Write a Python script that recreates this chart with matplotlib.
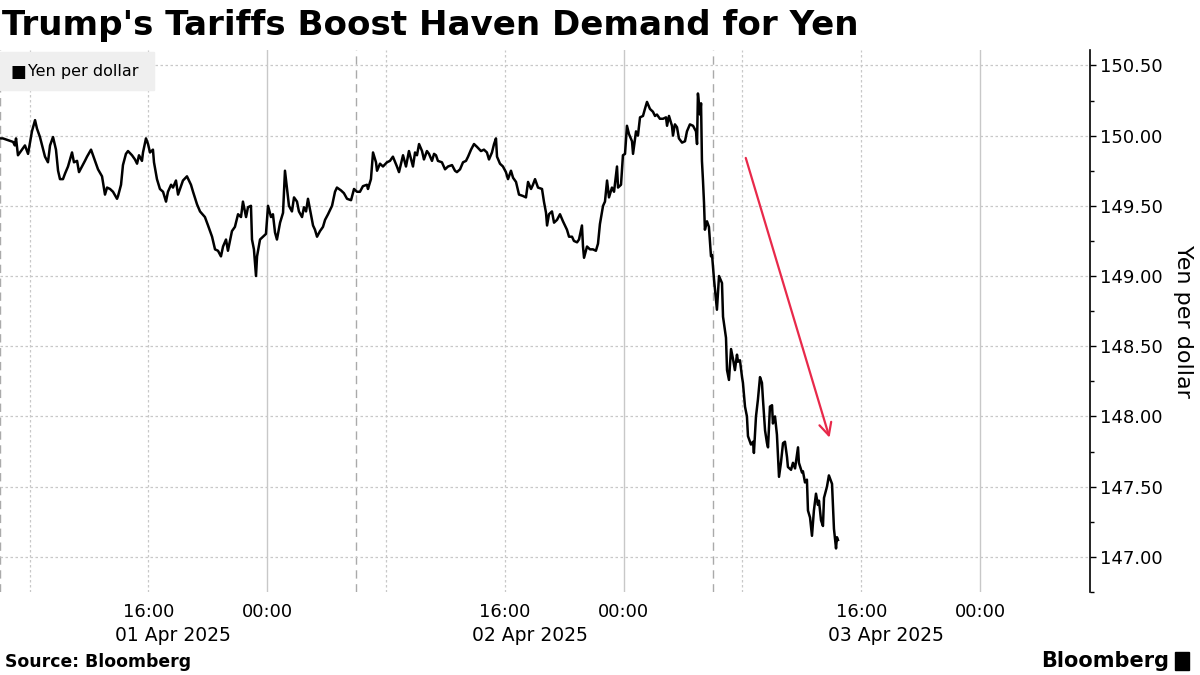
import numpy as np
import pandas as pd
import matplotlib
matplotlib.use("Agg")
import matplotlib.pyplot as plt
import matplotlib.dates as mdates
import matplotlib.transforms as mtransforms
from matplotlib.ticker import MultipleLocator, FuncFormatter

# hours after 2025-04-01 06:00 and USDJPY level
hours = [
    0.00, 0.20, 0.88, 1.00, 1.08, 1.21, 1.48, 1.68, 1.89, 2.15, 2.36, 2.49, 2.69,
    3.03, 3.23, 3.37, 3.57, 3.77, 3.91, 4.04, 4.24, 4.38, 4.58, 4.85, 4.98, 5.19,
    5.32, 5.52, 5.72, 5.86, 6.13, 6.40, 6.60, 6.87, 7.07, 7.21, 7.41, 7.61, 7.88,
    7.95, 8.15, 8.28, 8.48, 8.62, 8.89, 9.09, 9.23, 9.36, 9.56, 9.63, 9.83, 9.97,
    10.10, 10.30, 10.37, 10.57, 10.77, 10.98, 11.18, 11.31, 11.52, 11.65, 11.85,
    11.99, 12.19, 12.32, 12.59, 12.86, 13.00, 13.27, 13.47, 13.80, 14.01, 14.28,
    14.48, 14.68, 14.88, 15.02, 15.22, 15.35, 15.62, 15.82, 16.03, 16.23, 16.36,
    16.57, 16.70, 16.90, 16.97, 17.10, 17.24, 17.31, 17.51, 17.71, 17.91, 18.05,
    18.25, 18.38, 18.52, 18.65, 18.86, 19.06, 19.19, 19.33, 19.46, 19.66, 19.80,
    20.00, 20.13, 20.34, 20.47, 20.61, 20.74, 20.94, 21.08, 21.21, 21.35, 21.55,
    21.75, 21.89, 22.09, 22.36, 22.56, 22.69, 22.96, 23.16, 23.37, 23.64, 23.84,
    24.04, 24.24, 24.44, 24.71, 24.78, 24.98, 25.12, 25.32, 25.39, 25.59, 25.79,
    26.06, 26.26, 26.46, 26.73, 26.87, 27.14, 27.34, 27.54, 27.81, 27.95, 28.08,
    28.22, 28.42, 28.55, 28.75, 28.89, 29.09, 29.23, 29.36, 29.49, 29.76, 29.97,
    30.17, 30.44, 30.64, 30.77, 30.98, 31.18, 31.38, 31.52, 31.72, 31.92, 32.12,
    32.39, 32.59, 32.79, 32.93, 33.13, 33.27, 33.40, 33.47, 33.67, 33.87, 34.07,
    34.21, 34.41, 34.55, 34.75, 34.95, 35.22, 35.42, 35.56, 35.76, 35.89, 36.03,
    36.23, 36.50, 36.63, 36.77, 36.84, 36.97, 37.17, 37.31, 37.51, 37.71, 37.91,
    38.18, 38.32, 38.52, 38.65, 38.86, 38.99, 39.19, 39.26, 39.33, 39.53, 39.73,
    39.93, 40.13, 40.27, 40.40, 40.61, 40.74, 40.88, 41.01, 41.21, 41.35, 41.55,
    41.62, 41.82, 41.95, 42.09, 42.22, 42.36, 42.56, 42.63, 42.83, 42.96, 43.10,
    43.30, 43.43, 43.57, 43.77, 43.97, 44.11, 44.24, 44.44, 44.65, 44.85, 44.92,
    45.05, 45.25, 45.32, 45.45, 45.59, 45.72, 45.93, 46.13, 46.26, 46.46, 46.67,
    46.87, 46.94, 47.00, 47.14, 47.21, 47.27, 47.34, 47.41, 47.47, 47.61, 47.74,
    47.88, 47.95, 48.08, 48.28, 48.42, 48.62, 48.69, 48.89, 48.96, 49.09, 49.23,
    49.36, 49.49, 49.63, 49.70, 49.83, 49.97, 50.03, 50.17, 50.30, 50.37, 50.57,
    50.71, 50.77, 50.91, 51.04, 51.18, 51.31, 51.38, 51.52, 51.65, 51.72, 51.85,
    51.99, 52.05, 52.19, 52.32, 52.46, 52.59, 52.73, 52.86, 53.00, 53.06, 53.27,
    53.40, 53.54, 53.67, 53.74, 53.80, 54.01, 54.07, 54.21, 54.34, 54.41, 54.55,
    54.68, 54.81, 54.95, 55.08, 55.15, 55.29, 55.42, 55.49, 55.69, 55.82, 56.03,
    56.16, 56.30, 56.36, 56.43,
]
usdjpy = [
    149.98, 149.98, 149.955, 149.93, 149.98, 149.86, 149.90, 149.93, 149.87, 150.03,
    150.11, 150.05, 149.99, 149.85, 149.81, 149.93, 149.99, 149.90, 149.75, 149.69,
    149.69, 149.73, 149.78, 149.88, 149.81, 149.82, 149.74, 149.78, 149.82, 149.85,
    149.90, 149.82, 149.76, 149.71, 149.58, 149.63, 149.62, 149.60, 149.55, 149.57,
    149.65, 149.79, 149.87, 149.89, 149.86, 149.83, 149.80, 149.86, 149.82, 149.88,
    149.98, 149.94, 149.88, 149.90, 149.81, 149.69, 149.62, 149.60, 149.53, 149.60,
    149.65, 149.63, 149.68, 149.58, 149.64, 149.68, 149.71, 149.65, 149.60, 149.51,
    149.46, 149.42, 149.36, 149.28, 149.19, 149.18, 149.14, 149.21, 149.26, 149.18,
    149.32, 149.35, 149.44, 149.42, 149.53, 149.42, 149.49, 149.50, 149.26, 149.19,
    149.00, 149.14, 149.26, 149.28, 149.30, 149.50, 149.42, 149.44, 149.31, 149.26,
    149.38, 149.45, 149.75, 149.62, 149.50, 149.46, 149.56, 149.53, 149.46, 149.42,
    149.49, 149.46, 149.55, 149.44, 149.36, 149.33, 149.28, 149.32, 149.35, 149.40,
    149.44, 149.50, 149.60, 149.63, 149.61, 149.59, 149.55, 149.54, 149.62, 149.60,
    149.60, 149.64, 149.65, 149.62, 149.69, 149.88, 149.81, 149.75, 149.80, 149.78,
    149.81, 149.82, 149.85, 149.78, 149.74, 149.86, 149.78, 149.89, 149.78, 149.88,
    149.86, 149.94, 149.89, 149.83, 149.89, 149.87, 149.82, 149.87, 149.86, 149.82,
    149.81, 149.76, 149.78, 149.79, 149.75, 149.74, 149.76, 149.81, 149.82, 149.85,
    149.90, 149.94, 149.92, 149.89, 149.90, 149.88, 149.83, 149.88, 149.94, 149.98,
    149.85, 149.80, 149.78, 149.74, 149.69, 149.75, 149.70, 149.67, 149.58, 149.57,
    149.56, 149.67, 149.62, 149.65, 149.69, 149.63, 149.62, 149.53, 149.45, 149.36,
    149.44, 149.46, 149.38, 149.40, 149.44, 149.39, 149.33, 149.28, 149.28, 149.25,
    149.24, 149.26, 149.36, 149.21, 149.13, 149.21, 149.19, 149.19, 149.18, 149.23,
    149.37, 149.50, 149.53, 149.68, 149.56, 149.63, 149.60, 149.78, 149.63, 149.65,
    149.86, 149.87, 150.07, 150.01, 149.96, 149.87, 150.03, 150.00, 150.13, 150.14,
    150.19, 150.24, 150.19, 150.17, 150.14, 150.15, 150.12, 150.12, 150.13, 150.07,
    150.14, 150.07, 150.00, 150.08, 150.06, 149.98, 149.95, 149.96, 150.03, 150.08,
    150.07, 150.03, 149.94, 150.30, 150.15, 150.23, 149.82, 149.68, 149.52, 149.33,
    149.39, 149.35, 149.14, 149.15, 148.98, 148.76, 149.00, 148.95, 148.71, 148.56,
    148.33, 148.26, 148.48, 148.41, 148.33, 148.44, 148.39, 148.40, 148.28, 148.24,
    148.07, 148.00, 147.86, 147.80, 147.82, 147.74, 148.00, 148.12, 148.28, 148.24,
    148.12, 147.90, 147.81, 147.78, 148.07, 148.08, 147.95, 148.00, 147.87, 147.57,
    147.67, 147.81, 147.82, 147.71, 147.64, 147.62, 147.67, 147.63, 147.73, 147.78,
    147.67, 147.60, 147.61, 147.53, 147.55, 147.33, 147.28, 147.15, 147.33, 147.45,
    147.37, 147.40, 147.26, 147.22, 147.42, 147.50, 147.58, 147.52, 147.20, 147.06,
    147.14, 147.12,
]

start = pd.Timestamp("2025-04-01 06:00")
end = pd.Timestamp("2025-04-04 07:24")
session_lines = ["2025-04-01 06:00", "2025-04-02 06:00", "2025-04-03 06:00"]
midnight_lines = ["2025-04-02 00:00", "2025-04-03 00:00", "2025-04-04 00:00"]
other_lines = ["2025-04-01 08:00", "2025-04-01 16:00", "2025-04-02 08:00",
               "2025-04-02 16:00", "2025-04-03 08:00", "2025-04-03 16:00"]
tick_times = ["2025-04-01 16:00", "2025-04-02 00:00", "2025-04-02 16:00",
              "2025-04-03 00:00", "2025-04-03 16:00", "2025-04-04 00:00"]
date_labels = ["01 Apr 2025", "02 Apr 2025", "03 Apr 2025"]
arrow_from = ("2025-04-03 08:10", 149.86)
arrow_to = ("2025-04-03 13:55", 147.83)

times = start + pd.to_timedelta(hours, unit="h")

fig = plt.figure(figsize=(12, 6.75), dpi=100)
ax = fig.add_axes([0.0, 0.123, 0.9083, 0.803])

for t in other_lines:
    ax.axvline(pd.Timestamp(t), color="#c8c8c8", lw=0.9, ls=(0, (2, 2)), zorder=0)
for t in midnight_lines:
    ax.axvline(pd.Timestamp(t), color="#c8c8c8", lw=1.0, zorder=0)
for t in session_lines:
    ax.axvline(pd.Timestamp(t), color="#aaaaaa", lw=1.0, ls=(0, (6, 4)), zorder=0)

ax.plot(times, usdjpy, color="black", lw=1.8, zorder=3)

ax.annotate("", xy=(pd.Timestamp(arrow_to[0]), arrow_to[1]),
            xytext=(pd.Timestamp(arrow_from[0]), arrow_from[1]),
            arrowprops=dict(arrowstyle="->", color="#e8294a", lw=1.6,
                            mutation_scale=22))

ax.set_xlim(start, end)
ax.set_ylim(146.75, 150.61)

ax.yaxis.tick_right()
ax.yaxis.set_label_position("right")
ax.yaxis.set_major_locator(MultipleLocator(0.5))
ax.yaxis.set_minor_locator(MultipleLocator(0.25))
ax.yaxis.set_major_formatter(FuncFormatter(lambda v, p: f"{v:.2f}"))
ax.tick_params(axis="y", which="major", length=4, width=1, labelsize=13, pad=3)
ax.tick_params(axis="y", which="minor", length=3, width=1)
ax.grid(axis="y", which="major", color="#c8c8c8", lw=0.9, ls=(0, (2, 2)))
ax.set_ylabel("Yen per dollar", rotation=270, fontsize=16, labelpad=22)

ax.set_xticks([pd.Timestamp(t) for t in tick_times])
ax.xaxis.set_major_formatter(mdates.DateFormatter("%H:%M"))
ax.tick_params(axis="x", length=0, labelsize=13, pad=8)

for s in ["top", "left", "bottom"]:
    ax.spines[s].set_visible(False)
ax.spines["right"].set_linewidth(1.2)

trans = mtransforms.blended_transform_factory(ax.transData, fig.transFigure)
for i, lab in enumerate(date_labels):
    x = pd.Timestamp("2025-04-01 17:40") + pd.Timedelta(days=i)
    ax.text(x, 0.059, lab, transform=trans, ha="center", va="center",
            fontsize=13.5, clip_on=False)

# legend chip
fig.patches.append(plt.Rectangle((0.0, 0.866), 0.128, 0.057,
                                 transform=fig.transFigure, color="#efefef",
                                 zorder=1))
fig.text(0.009, 0.894, "\u25a0", fontsize=12, va="center", ha="left")
fig.text(0.023, 0.894, "Yen per dollar", fontsize=11.5, va="center", ha="left")

fig.text(0.002, 0.962, "Trump's Tariffs Boost Haven Demand for Yen",
         fontsize=24.6, weight="bold", va="center", ha="left")
fig.text(0.004, 0.019, "Source: Bloomberg", fontsize=12.4, weight="bold",
         va="center", ha="left")
fig.text(0.974, 0.021, "Bloomberg", fontsize=15, weight="bold",
         va="center", ha="right")
fig.patches.append(plt.Rectangle((0.9795, 0.008), 0.0115, 0.026,
                                 transform=fig.transFigure, color="black"))

fig.savefig("out.png", dpi=100)
